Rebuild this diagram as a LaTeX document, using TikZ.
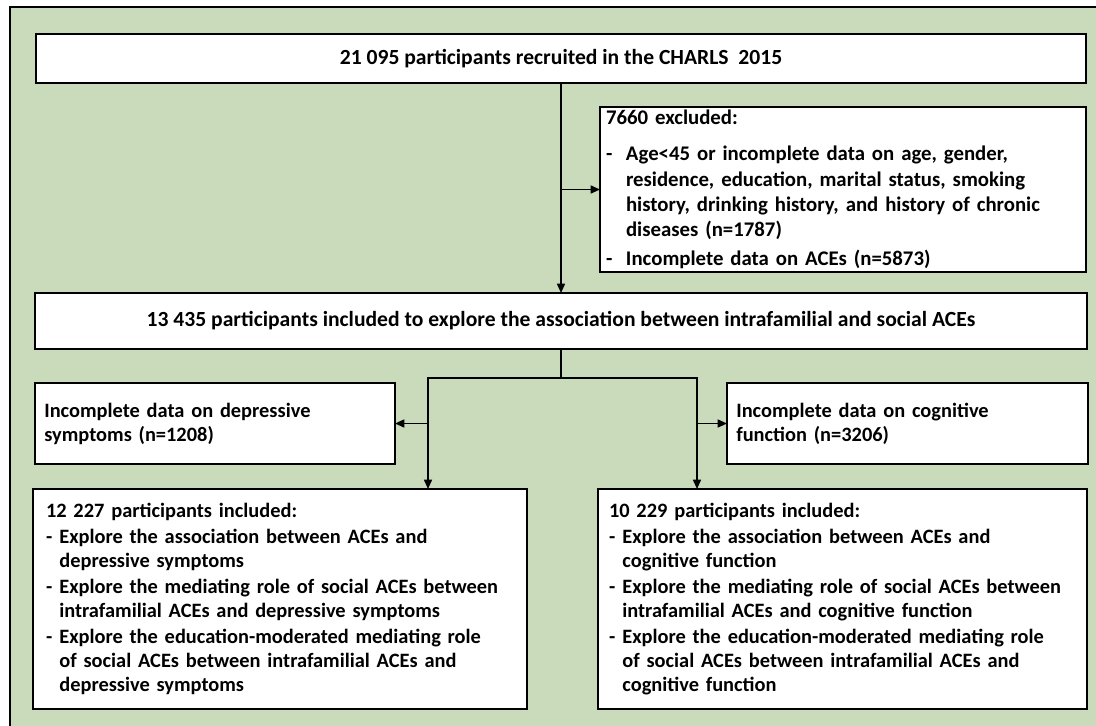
\documentclass[tikz,border=0pt]{standalone}
\usepackage{fontspec}
\setmainfont{Carlito}
\usetikzlibrary{arrows.meta}
\definecolor{bggreen}{RGB}{202,219,188}
% #1 = space before, #2 = hanging width, #3 = text
\newcommand\itm[3]{\par\vspace{#1}\hangindent=#2\hangafter=1\noindent\makebox[#2][l]{-}#3\par}
\tikzset{
  box/.style={draw=black, line width=1.5pt, fill=white, outer sep=0pt, inner ysep=0pt},
  headfont/.style={font=\bfseries\fontsize{16.2}{19.5}\selectfont},
  exclfont/.style={font=\bfseries\fontsize{15.6}{19}\selectfont},
  lowfont/.style={font=\bfseries\fontsize{15.3}{18}\selectfont},
  arr/.style={-{Triangle[length=7pt,width=6pt]}, line width=1.2pt},
  conn/.style={line width=1.2pt},
}
\begin{document}
\begin{tikzpicture}[x=0.75pt,y=-0.75pt]
\useasboundingbox (0,0) rectangle (1096,725);
\clip (0,0) rectangle (1096,725);
\fill[white] (0,0) rectangle (1096,725);
\draw[fill=bggreen, line width=1.5pt] (10,7) rectangle (1110,740);

\node[box, headfont, minimum width=787.5pt, minimum height=36.75pt, inner xsep=0pt, align=center] (top) at (561,58.5)
  {21 095 participants recruited in the CHARLS~ 2015};

\node[box, exclfont, minimum width=364.5pt, minimum height=123.75pt, inner xsep=4.5pt, text width=355.5pt, align=left] (excl) at (843,189.5)
  {7660 excluded:%
   \itm{8pt}{15pt}{Age<45 or incomplete data on age, gender,\newline residence, education, marital status, smoking\newline history, drinking history, and history of chronic\newline diseases (n=1787)}%
   \itm{2.6pt}{15pt}{Incomplete data on ACEs (n=5873)}};

\node[box, headfont, minimum width=789pt, minimum height=42pt, inner xsep=0pt, align=center] (mid) at (561,321)
  {13 435 participants included to explore the association between intrafamilial and social ACEs};

\node[box, lowfont, minimum width=270pt, minimum height=60.75pt, inner xsep=7pt, text width=256pt, align=left] (dep) at (215,423.5)
  {Incomplete data on depressive\newline symptoms (n=1208)};

\node[box, lowfont, minimum width=270.75pt, minimum height=60.75pt, inner xsep=7pt, text width=256.75pt, align=left] (cog) at (907.5,423.5)
  {Incomplete data on cognitive\newline function (n=3206)};

\node[box, lowfont, minimum width=370.5pt, minimum height=165pt, inner xsep=9.75pt, text width=351pt, align=left] (inc1) at (280,599)
  {12 227 participants included:%
   \itm{1.5pt}{10pt}{Explore the association between ACEs and\newline depressive symptoms}%
   \itm{1.5pt}{10pt}{Explore the mediating role of social ACEs between\newline intrafamilial ACEs and depressive symptoms}%
   \itm{1.5pt}{10pt}{Explore the education-moderated mediating role\newline of social ACEs between intrafamilial ACEs and\newline depressive symptoms}};

\node[box, lowfont, minimum width=366.75pt, minimum height=165pt, inner xsep=8.25pt, text width=350.25pt, align=left] (inc2) at (842.5,599)
  {10 229 participants included:%
   \itm{1.5pt}{10pt}{Explore the association between ACEs and\newline cognitive function}%
   \itm{1.5pt}{10pt}{Explore the mediating role of social ACEs between\newline intrafamilial ACEs and cognitive function}%
   \itm{1.5pt}{10pt}{Explore the education-moderated mediating role\newline of social ACEs between intrafamilial ACEs and\newline cognitive function}};

% connectors
\draw[arr] (top.south) -- (mid.north);
\draw[arr] (top.south |- excl.west) -- (excl.west);

\coordinate (split) at (561,378);
\coordinate (L) at (428,378);
\coordinate (R) at (697,378);
\draw[conn] (mid.south) -- (split);
\draw[arr] (split) -- (L) -- (L |- inc1.north);
\draw[arr] (split) -- (R) -- (R |- inc2.north);
\draw[arr] (L |- dep.east) -- (dep.east);
\draw[arr] (R |- cog.west) -- (cog.west);
\end{tikzpicture}
\end{document}
